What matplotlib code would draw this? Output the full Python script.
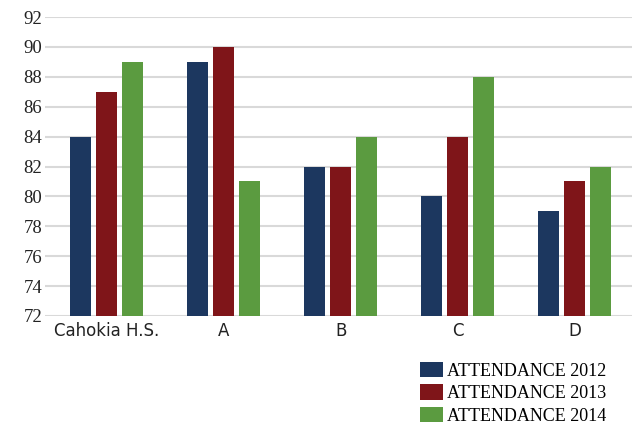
import matplotlib
matplotlib.use('Agg')
import matplotlib.pyplot as plt
import numpy as np

# dados do gráfico
schools = ['Cahokia H.S.', 'A', 'B', 'C', 'D']
att_2012 = [84, 89, 82, 80, 79]
att_2013 = [87, 90, 82, 84, 81]
att_2014 = [89, 81, 84, 88, 82]
y_ticks = [72, 74, 76, 78, 80, 82, 84, 86, 88, 90, 92]

colors = ['#1C375F', '#7F1519', '#5B9B40']
labels = ['ATTENDANCE 2012', 'ATTENDANCE 2013', 'ATTENDANCE 2014']
series = [att_2012, att_2013, att_2014]

fig = plt.figure(figsize=(6.34, 4.25), dpi=100)
ax = fig.add_axes([45 / 634, 109 / 425, 587 / 634, 299 / 425])

x = np.arange(len(schools))
width = 0.18
step = 0.222
bars = []
for i, (vals, c) in enumerate(zip(series, colors)):
    b = ax.bar(x + (i - 1) * step, np.array(vals) - 72, width, bottom=72,
               color=c, zorder=3)
    bars.append(b)

ax.set_ylim(72, 92)
ax.set_xlim(-0.526, 4.49)
ax.set_yticks(y_ticks)
ax.set_yticklabels([str(t) for t in y_ticks], family='Liberation Serif', fontsize=13.5)
ax.set_xticks(x)
ax.set_xticklabels(schools, family='DejaVu Sans', fontsize=12)
ax.tick_params(axis='y', length=0, pad=2, colors='#222222')
ax.tick_params(axis='x', length=0, pad=4, colors='#222222')
ax.grid(axis='y', color='#d9d9d9', linewidth=1.5, zorder=0)
for s in ax.spines.values():
    s.set_visible(False)

# legenda no canto inferior direito
fig.legend(bars, labels, loc='upper left', bbox_to_anchor=(420 / 634, 1 - 362 / 425),
           frameon=False, prop={'family': 'Liberation Serif', 'size': 13},
           borderpad=0, borderaxespad=0,
           handlelength=1.28, handleheight=0.94, handletextpad=0.22, labelspacing=0.25)

fig.savefig('out.png', dpi=100)
